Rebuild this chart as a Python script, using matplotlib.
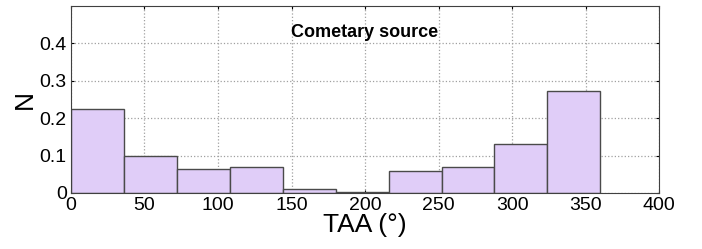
import numpy as np
import matplotlib
matplotlib.use("Agg")
import matplotlib.pyplot as plt

plt.rcParams['font.family'] = ['Liberation Sans', 'DejaVu Sans']

# TAA bin edges (deg) and normalised counts
bin_edges = [0, 36, 72, 108, 144, 180, 216, 252, 288, 324, 360]
fractions = [0.224, 0.099, 0.063, 0.069, 0.010, 0.0035, 0.060, 0.069, 0.130, 0.273]
x_ticks = [0, 50, 100, 150, 200, 250, 300, 350, 400]
y_ticks = [0, 0.1, 0.2, 0.3, 0.4]
y_tick_labels = ['0', '0.1', '0.2', '0.3', '0.4']

fig = plt.figure(figsize=(7.02, 2.49), dpi=100)
ax = fig.add_axes([0.101, 0.225, 0.838, 0.751])

ax.hist(bin_edges[:-1], bins=bin_edges, weights=fractions,
        color='#e0cdf8', edgecolor='#4a4a4a', linewidth=1.0, zorder=2)

ax.set_xlim(0, 400)
ax.set_ylim(0, 0.5)
ax.set_xticks(x_ticks)
ax.set_yticks(y_ticks)
ax.set_yticklabels(y_tick_labels)
ax.grid(True, linestyle=':', color='#a0a0a0', linewidth=0.9, zorder=0)
ax.set_axisbelow(True)
ax.tick_params(direction='in', length=2, labelsize=14, top=True, right=True, pad=3)
for s in ax.spines.values():
    s.set_color('#404040')

ax.set_xlabel('TAA (°)', fontsize=19, labelpad=-1)
ax.set_ylabel('N', fontsize=19, labelpad=2)

ax.text(200, 0.428, 'Cometary source', ha='center', va='center',
        fontsize=13, fontweight='bold')

fig.savefig('out.png', dpi=100)
